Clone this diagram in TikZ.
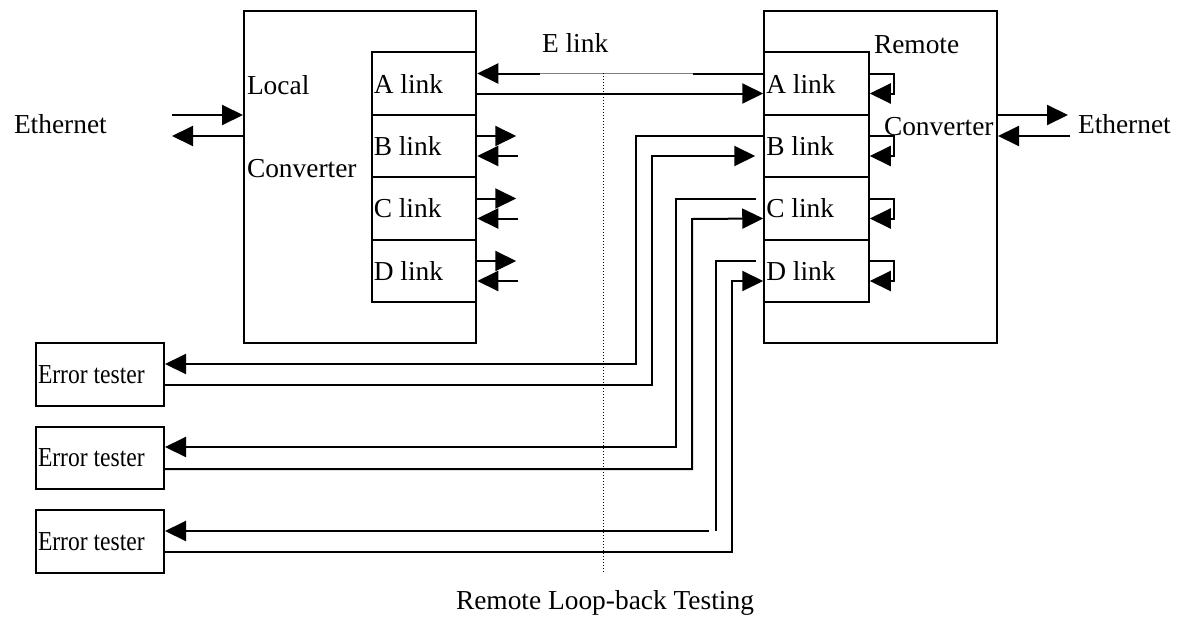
\documentclass[tikz,border=0pt]{standalone}
\usepackage{fontspec}
\usepackage{graphicx}
\setmainfont{Liberation Serif}
\usetikzlibrary{arrows.meta}

\begin{document}
\begin{tikzpicture}[x=1pt,y=-1pt,>={Triangle[length=21pt,width=20pt]},line width=2pt,
  font=\fontsize{27.4}{32}\selectfont,
  convbox/.style={draw,minimum width=232pt,minimum height=332pt},
  linkbox/.style={draw,minimum height=62.5pt,inner xsep=2pt,inner ysep=0pt,text width=100.5pt,align=flush left},
  testbox/.style={draw,minimum height=62.5pt,inner xsep=2pt,inner ysep=0pt,text width=124pt,align=flush left},
  lbl/.style={anchor=base west,inner sep=0pt}]
\useasboundingbox (0,0) rectangle (1182,621);

% converters
\node[convbox] (lconv) at (360,177) {};
\node[convbox,minimum width=233pt] (rconv) at (880.5,177) {};
\foreach \n/\y in {A/83.5,B/146,C/208.5,D/271} {
  \node[linkbox] (l\n) at (424,\y) {\n{} link};
  \node[linkbox] (r\n) at (816.5,\y) {\n{} link};
}
\node[lbl] (lloc) at (246,94) {Local};
\node[lbl] (lcon) at (246,177) {Converter};
\node[lbl] (rrem) at (873,53) {Remote};
\node[lbl] (rcon) at (883,135) {Converter};

% testers
\foreach \i/\y in {1/374.5,2/458,3/541.5}
  \node[testbox] (t\i) at (100,\y) {\scalebox{0.86}[1]{Error tester}};

% ethernet
\node[lbl] (ethl) at (13,133) {Ethernet};
\node[lbl] (ethr) at (1077,133) {Ethernet};
\coordinate (el1) at (172,115);
\coordinate (el2) at (172,136);
\coordinate (er1) at (1068,115);
\coordinate (er2) at (1070,136);
\draw[->] (el1) -- (el1 -| lconv.west);
\draw[->] (el2 -| lconv.west) -- (el2);
\draw[->] (er1 -| rconv.east) -- (er1);
\draw[->] (er2) -- (er2 -| rconv.east);

% E link
\node[lbl] (elink) at (541,52) {E link};
\coordinate (eL) at (540,73.5);
\coordinate (eR) at (693,73.5);
\draw[->] ([yshift=-10pt]lA.east) -- ([yshift=-10pt]rA.west);
\draw ([yshift=10pt]rA.west) -- (eR);
\draw[line width=0.7pt,gray] (eR) -- (eL);
\draw[->] (eL) -- ([yshift=10pt]lA.east);

% local stubs
\foreach \n in {B,C,D} {
  \draw[->] ([yshift=10pt]l\n.east) -- ++(39,0);
  \draw[->] ([xshift=41pt,yshift=-10pt]l\n.east) -- ([yshift=-10pt]l\n.east);
}

% remote loop-backs
\foreach \n in {A,B,C,D}
  \draw[->] ([yshift=10pt]r\n.east) -- ++(24,0) -- ++(0,20) -- ([yshift=-10pt]r\n.east);

% tester wiring
\draw[->] ([yshift=10pt]rB.west) -| (636,364) -- ([yshift=10.5pt]t1.east);
\draw[->] ([yshift=-10.5pt]t1.east) -| (652,156) -- ([xshift=-8pt,yshift=-10pt]rB.west);
\draw[->] ([xshift=-7pt,yshift=10pt]rC.west) -| (676,447) -- ([yshift=11pt]t2.east);
\draw[->] ([yshift=-11pt]t2.east) -| (692,219) -- ([yshift=-10pt]rC.west);
\coordinate (dgap) at (709,531);
\draw ([xshift=-7pt,yshift=10pt]rD.west) -| (716,531);
\draw[->] (dgap) -- ([yshift=10.5pt]t3.east);
\draw[->] ([yshift=-10.5pt]t3.east) -| (732,281) -- ([yshift=-10pt]rD.west);

% divider
\coordinate (dtop) at (603,73);
\coordinate (dbot) at (603,573);
\draw[line width=1pt,dotted] (dtop) -- (dbot);
\node[lbl] (title) at (455,609) {Remote Loop-back Testing};
\end{tikzpicture}
\end{document}
